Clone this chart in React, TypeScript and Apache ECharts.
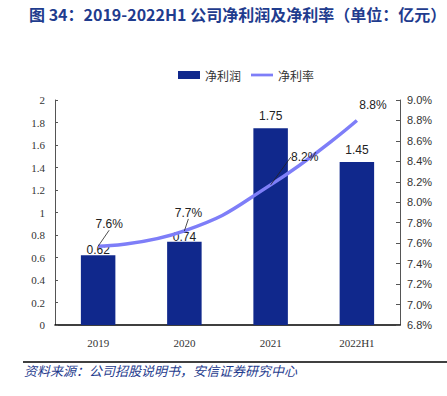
import React, { useEffect, useRef } from "react";
import * as echarts from "echarts";

const categories = ["2019", "2020", "2021", "2022H1"];
const netProfit = [0.62, 0.74, 1.75, 1.45];
const netMargin = [7.57, 7.72, 8.17, 8.8];
const marginLabels = ["7.6%", "7.7%", "8.2%", "8.8%"];
const leftTicks = { min: 0, max: 2, interval: 0.2 };
const rightTicks = { min: 6.8, max: 9.0, interval: 0.2 };

const labelOffsets = [
  [11, -22],
  [4, -18],
  [34, -28],
  [16, -15],
];

export default function App() {
  const ref = useRef<HTMLDivElement>(null);
  useEffect(() => {
    if (!ref.current) return;
    const chart = echarts.init(ref.current, null, { renderer: "svg" });
    const serif = "'Liberation Serif', 'Times New Roman', serif";
    const sans = "'Liberation Sans', Arial, sans-serif";
    chart.setOption({
      animation: false,
      backgroundColor: "#fff",
      title: {
        text: "图 34：2019-2022H1 公司净利润及净利率（单位：亿元）",
        left: 24,
        top: 1,
        textStyle: {
          fontFamily: "'Noto Sans CJK SC', sans-serif",
          fontWeight: "bold",
          fontSize: 16,
          color: "#1F3C8E",
        },
      },
      legend: {
        top: 64,
        left: 173,
        itemWidth: 22,
        itemHeight: 8,
        itemGap: 10,
        textStyle: { fontFamily: "'Noto Sans CJK SC', sans-serif", fontSize: 12, color: "#333" },
        data: [
          { name: "净利润", icon: "rect" },
          { name: "净利率", icon: "path://M0,0 L24,0 L24,3 L0,3 Z", itemStyle: { color: "#7E7EF8" } },
        ],
      },
      grid: { left: 55, right: 47, top: 100, bottom: 71 },
      xAxis: {
        type: "category",
        data: categories,
        axisLine: { lineStyle: { color: "#000", width: 1.5 } },
        axisTick: { show: false },
        axisLabel: { fontFamily: serif, fontSize: 11, color: "#333", margin: 12 },
      },
      yAxis: [
        {
          type: "value",
          min: leftTicks.min,
          max: leftTicks.max,
          interval: leftTicks.interval,
          splitLine: { show: false },
          axisLine: { show: true, lineStyle: { color: "#555", width: 1 } },
          axisTick: { show: true, inside: true, length: 3, lineStyle: { color: "#555" } },
          axisLabel: { fontFamily: serif, fontSize: 11, color: "#333", margin: 10 },
        },
        {
          type: "value",
          min: rightTicks.min,
          max: rightTicks.max,
          interval: rightTicks.interval,
          splitLine: { show: false },
          axisLine: { show: true, lineStyle: { color: "#555", width: 1 } },
          axisTick: { show: true, inside: true, length: 4, lineStyle: { color: "#555" } },
          axisLabel: {
            fontFamily: sans,
            fontSize: 11,
            color: "#333",
            margin: 7,
            formatter: (v: number) => v.toFixed(1) + "%",
          },
        },
      ],
      series: [
        {
          name: "净利润",
          type: "bar",
          data: netProfit.map((v, i) => ({
            value: v,
            label: { distance: i < 2 ? -1 : 6 },
          })),
          barWidth: "40%",
          itemStyle: { color: "#10288C" },
          label: {
            show: true,
            position: "top",
            fontFamily: sans,
            fontSize: 12,
            color: "#222",
            formatter: (p: any) => p.value.toFixed(2),
          },
        },
        {
          name: "净利率",
          type: "line",
          yAxisIndex: 1,
          data: netMargin.map((v, i) => ({
            value: v,
            labelLine: { show: i < 3 },
          })),
          smooth: true,
          symbol: "circle",
          symbolSize: 0.1,
          showSymbol: true,
          lineStyle: { color: "#7E7EF8", width: 3.5 },
          itemStyle: { color: "#7E7EF8" },
          label: {
            show: true,
            position: "inside",
            fontFamily: sans,
            fontSize: 12,
            color: "#222",
            formatter: (p: any) => marginLabels[p.dataIndex],
          },
          labelLine: { show: true, lineStyle: { color: "#222", width: 0.8 } },
          labelLayout: (p: any) => ({
            dx: labelOffsets[p.dataIndex][0],
            dy: labelOffsets[p.dataIndex][1],
          }),
          z: 3,
        },
      ],
      graphic: [
        {
          type: "line",
          shape: { x1: 23, y1: 362, x2: 447, y2: 362 },
          style: { stroke: "#000", lineWidth: 1.5 },
        },
        {
          type: "text",
          left: 24,
          top: 364,
          style: {
            text: "资料来源：公司招股说明书，安信证券研究中心",
            font: "italic 13px 'Noto Sans CJK SC', sans-serif",
            fill: "#1F3C8E",
          },
        },
      ],
    });
    return () => chart.dispose();
  }, []);
  return (
    <div
      ref={ref}
      style={{ position: "fixed", left: 0, top: 0, width: 447, height: 396 }}
    />
  );
}
